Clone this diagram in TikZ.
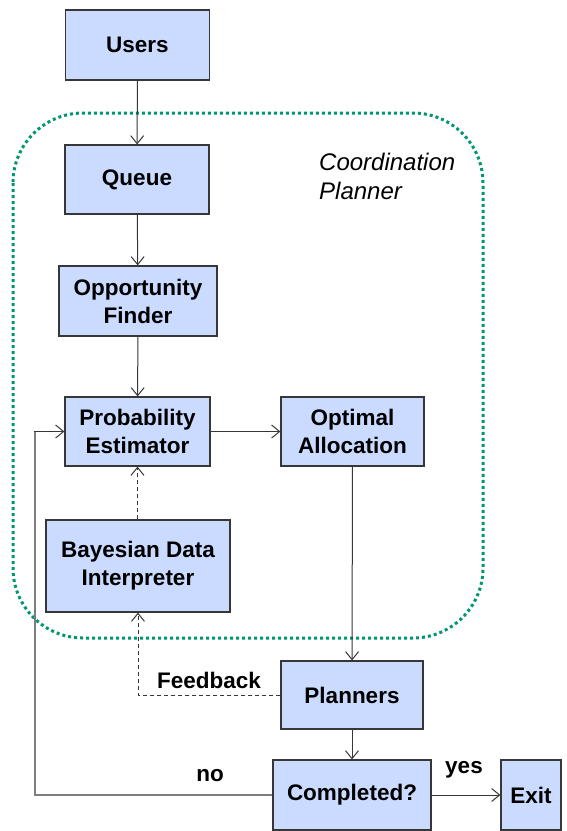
\documentclass[tikz,border=0pt]{standalone}
\usepackage{fontspec}
\setmainfont{Liberation Sans}
\usetikzlibrary{arrows.meta}
\definecolor{boxfill}{RGB}{202,219,255}
\definecolor{boxline}{RGB}{55,55,55}
\definecolor{plannergreen}{RGB}{0,150,112}
\definecolor{loopgray}{RGB}{125,125,125}
\tikzset{
  blk/.style={draw=boxline,fill=boxfill,line width=1.2pt,align=center,inner sep=0pt,
    font=\fontsize{22.5}{28}\selectfont\bfseries},
  lbl/.style={font=\fontsize{22.5}{28}\selectfont\bfseries,inner sep=0pt},
  flow/.style={draw=boxline,line width=1pt,-{Straight Barb[length=8pt,width=13pt]}},
  fback/.style={flow,dashed,dash pattern=on 4pt off 3pt},
}
\begin{document}
\begin{tikzpicture}[x=1pt,y=-1pt]
  \useasboundingbox (0,0) rectangle (567,831);
  % coordination planner frame
  \draw[plannergreen,line width=3pt,dash pattern=on 3pt off 3pt,rounded corners=70pt]
    (13,113) rectangle (483,638);
  \node[lbl,anchor=north west,align=left,font=\fontsize{24}{29}\selectfont\itshape]
    (cplan) at (319,153) {Coordination\\Planner};
  % boxes
  \node[blk,minimum width=144pt,minimum height=70pt] (users) at (137.5,45) {Users};
  \node[blk,minimum width=144pt,minimum height=69pt] (queue) at (137,179.5) {Queue};
  \node[blk,minimum width=158pt,minimum height=70pt] (opp) at (138,301) {Opportunity\\Finder};
  \node[blk,minimum width=145pt,minimum height=69pt] (prob) at (137.5,431.5) {Probability\\Estimator};
  \node[blk,minimum width=143pt,minimum height=69pt] (optim) at (352.5,431.5) {Optimal\\Allocation};
  \node[blk,minimum width=184pt,minimum height=92pt] (bayes) at (138,566) {Bayesian Data\\Interpreter};
  \node[blk,minimum width=142pt,minimum height=68pt] (plann) at (352,695) {Planners};
  \node[blk,minimum width=158pt,minimum height=70pt] (compl) at (352,795) {Completed?};
  \node[blk,minimum width=60pt,minimum height=70pt] (exit) at (531,795) {Exit};
  % connectors
  \draw[flow] (users) -- (queue);
  \draw[flow] (queue) -- (opp);
  \draw[flow] (opp) -- (prob);
  \draw[flow] (prob) -- (optim);
  \draw[fback] (bayes.north -| prob) -- (prob);
  \draw[flow] (optim) -- (plann);
  \draw[fback] (plann.west) -| (bayes.south);
  \node[lbl] (fbtxt) at (209,680) {Feedback};
  \draw[flow] (plann) -- (compl);
  \draw[flow] (compl) -- (exit);
  \node[lbl] (yes) at (464,770) {yes};
  \coordinate (noturn) at (35,795);
  \draw[loopgray,line width=2pt] (compl.west) -- (noturn) |- ([xshift=-30pt]prob.west);
  \draw[flow] ([xshift=-30.5pt]prob.west) -- (prob.west);
  \node[lbl] (no) at (210,776) {no};
\end{tikzpicture}
\end{document}
